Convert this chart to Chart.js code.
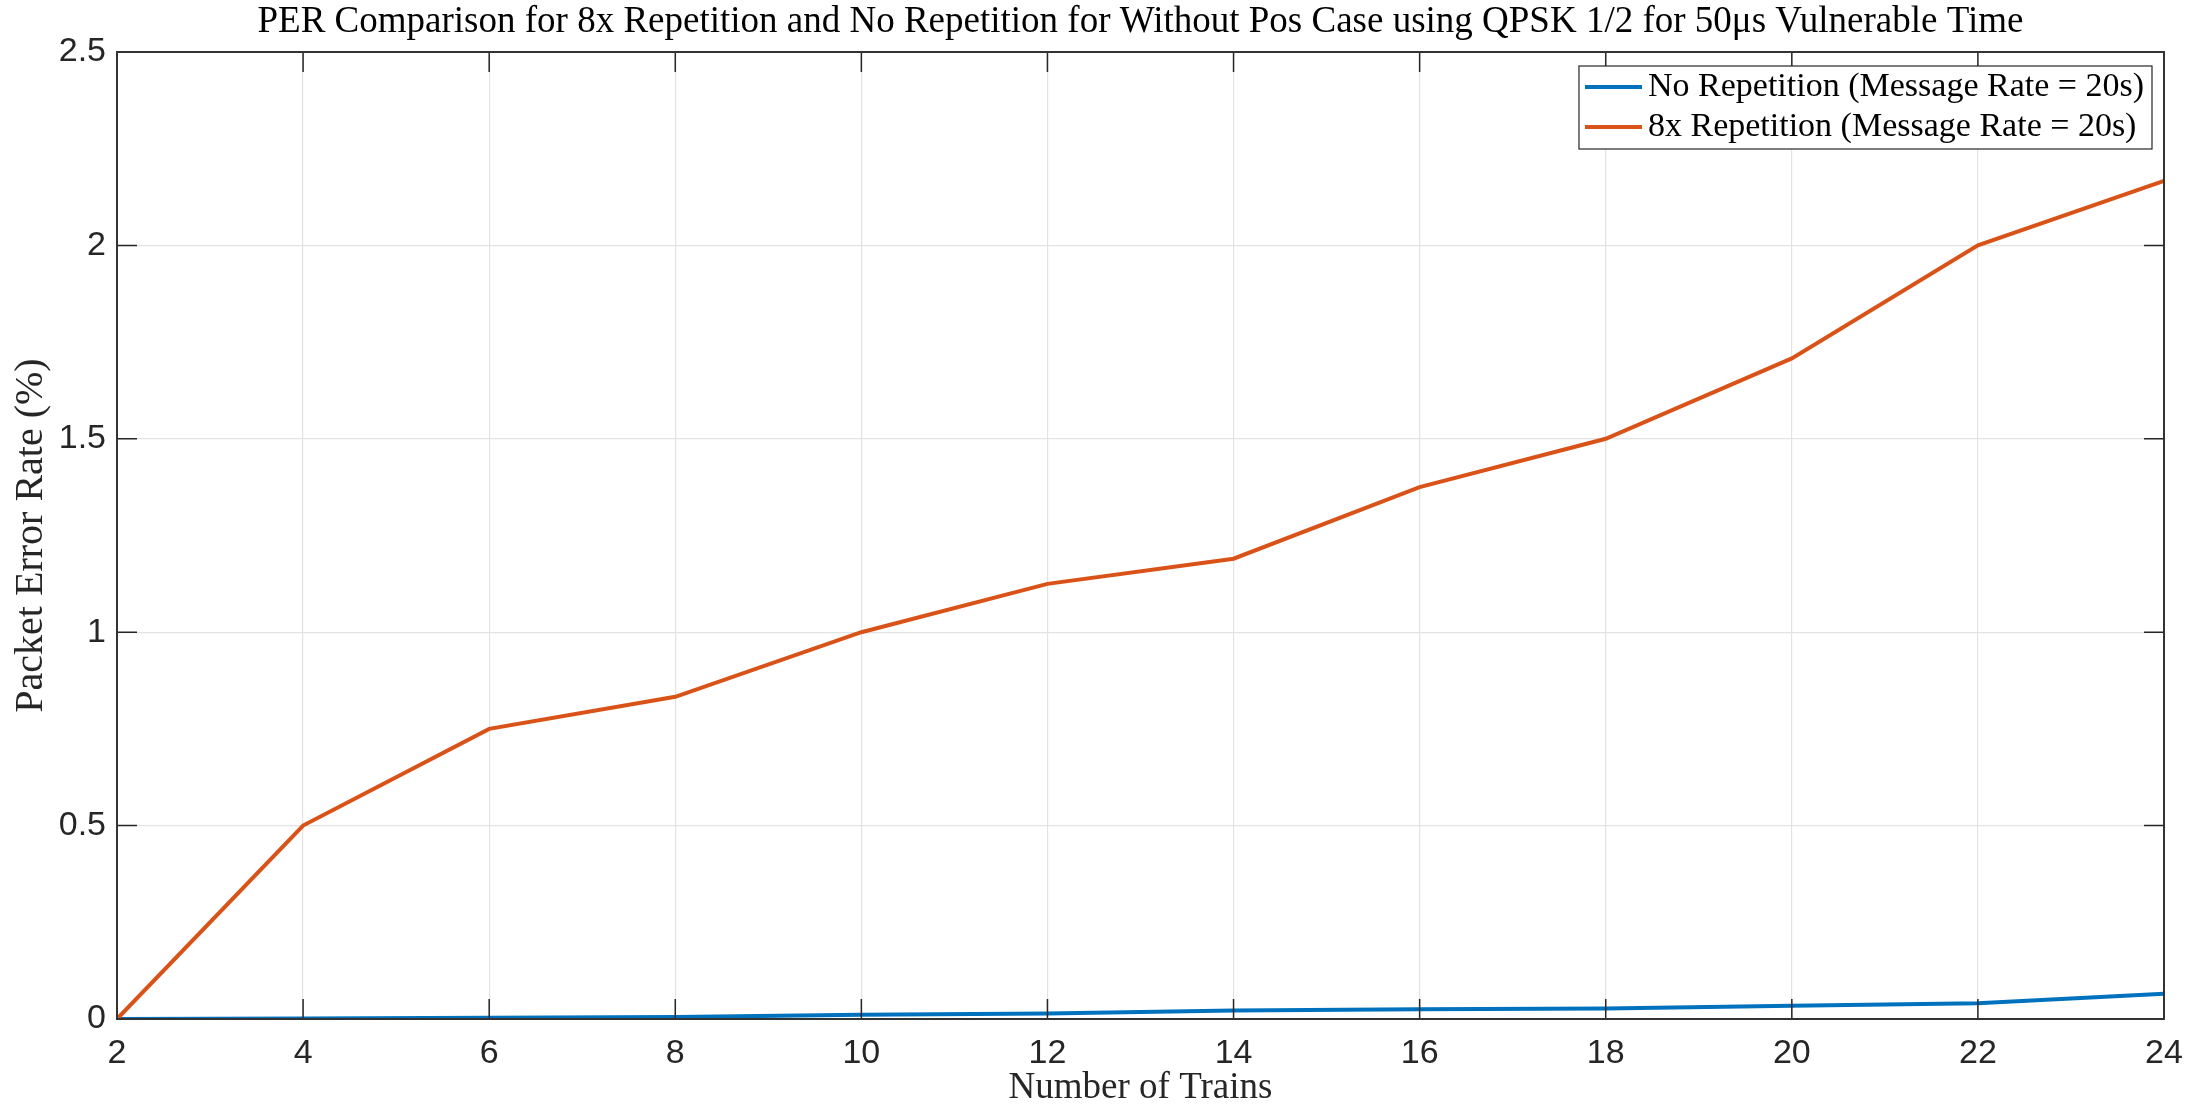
<!DOCTYPE html>
<html>
<head>
<meta charset="utf-8">
<script src="https://cdn.jsdelivr.net/npm/chart.js@4/dist/chart.umd.min.js"></script>
<style>
  html, body { margin: 0; padding: 0; background: #ffffff; }
  #wrap { width: 2211px; height: 1107px; }
</style>
</head>
<body>
<div id="wrap"><canvas id="c" width="2211" height="1107"></canvas></div>
<script>
// ---- data ----
const trains = [2, 4, 6, 8, 10, 12, 14, 16, 18, 20, 22, 24];
const noRepetition = [0, 0.001, 0.003, 0.005, 0.011, 0.014, 0.022, 0.025, 0.027, 0.034, 0.041, 0.065];
const rep8x = [0, 0.5, 0.75, 0.833, 1.0, 1.125, 1.19, 1.375, 1.5, 1.708, 2.0, 2.167];
const seriesLabels = ['No Repetition (Message Rate = 20s)', '8x Repetition (Message Rate = 20s)'];
const xTicks = [2, 4, 6, 8, 10, 12, 14, 16, 18, 20, 22, 24];
const yTicks = [0, 0.5, 1, 1.5, 2, 2.5];
const titleText = 'PER Comparison for 8x Repetition and No Repetition for Without Pos Case using QPSK 1/2 for 50\u03BCs Vulnerable Time';
const xTitle = 'Number of Trains';
const yTitle = 'Packet Error Rate (%)';

const AX = '#262626';
const SERIF = '"Liberation Serif", "DejaVu Serif", serif';
const SANS = '"Liberation Sans", Arial, Helvetica, sans-serif';

const toXY = (ys) => trains.map((t, i) => ({ x: t, y: ys[i] }));

// MATLAB-like box + inward ticks + legend
const boxPlugin = {
  id: 'boxTicks',
  afterDatasetsDraw(chart) {
    const { ctx, chartArea: a, scales } = chart;
    ctx.save();
    ctx.strokeStyle = AX;
    ctx.lineWidth = 1.5;
    const tl = 20;
    ctx.beginPath();
    xTicks.forEach(v => {
      const px = scales.x.getPixelForValue(v);
      ctx.moveTo(px, a.bottom); ctx.lineTo(px, a.bottom - tl);
      ctx.moveTo(px, a.top); ctx.lineTo(px, a.top + tl);
    });
    yTicks.forEach(v => {
      const py = scales.y.getPixelForValue(v);
      ctx.moveTo(a.left, py); ctx.lineTo(a.left + tl, py);
      ctx.moveTo(a.right, py); ctx.lineTo(a.right - tl, py);
    });
    ctx.stroke();
    ctx.strokeStyle = '#333333';
    ctx.lineWidth = 2;
    ctx.strokeRect(a.left, a.top, a.right - a.left, a.bottom - a.top);
    ctx.restore();
  },
  afterDraw(chart) {
    const { ctx, chartArea: a } = chart;
    ctx.save();
    ctx.font = '34px ' + SERIF;
    const widths = chart.data.datasets.map(d => ctx.measureText(d.label).width);
    const textW = Math.max(...widths);
    const lineLen = 57, gap = 6, padL = 6, padR = 8;
    const rowH = 40;
    const boxW = padL + lineLen + gap + textW + padR;
    const boxH = rowH * chart.data.datasets.length + 3;
    const bx = a.right - 12 - boxW;
    const by = a.top + 14;
    ctx.fillStyle = '#ffffff';
    ctx.fillRect(bx, by, boxW, boxH);
    ctx.strokeStyle = AX;
    ctx.lineWidth = 1.2;
    ctx.strokeRect(bx, by, boxW, boxH);
    chart.data.datasets.forEach((d, i) => {
      const cy = by + 21 + i * rowH;
      ctx.strokeStyle = d.borderColor;
      ctx.lineWidth = 4;
      ctx.beginPath();
      ctx.moveTo(bx + padL, cy);
      ctx.lineTo(bx + padL + lineLen, cy);
      ctx.stroke();
      ctx.fillStyle = '#000000';
      ctx.textBaseline = 'middle';
      ctx.textAlign = 'left';
      ctx.fillText(d.label, bx + padL + lineLen + gap, cy);
    });
    ctx.restore();
  }
};

new Chart(document.getElementById('c'), {
  type: 'line',
  data: {
    datasets: [
      { label: seriesLabels[0], data: toXY(noRepetition), borderColor: '#0072BD', backgroundColor: '#0072BD',
        borderWidth: 4, pointRadius: 0, tension: 0, order: 1 },
      { label: seriesLabels[1], data: toXY(rep8x), borderColor: '#D95319', backgroundColor: '#D95319',
        borderWidth: 4, pointRadius: 0, tension: 0, order: 0 }
    ]
  },
  options: {
    responsive: false,
    animation: false,
    devicePixelRatio: 1,
    layout: { padding: { left: 0, right: 47, top: 0, bottom: 0 } },
    plugins: {
      legend: { display: false },
      tooltip: { enabled: false },
      title: {
        display: true,
        fullSize: false,
        text: titleText,
        color: '#000000',
        font: { family: SERIF, size: 37, weight: 'normal', lineHeight: 1.0 },
        padding: { top: 4, bottom: 11 }
      }
    },
    scales: {
      x: {
        type: 'linear',
        min: 2, max: 24,
        afterBuildTicks: (s) => { s.ticks = xTicks.map(v => ({ value: v })); },
        afterFit: (s) => { s.height = 88; },
        grid: { color: '#e3e3e3', lineWidth: 1.2, drawTicks: false },
        border: { display: false },
        ticks: { color: AX, font: { family: SANS, size: 34 }, padding: 14, maxRotation: 0,
                 callback: (v) => String(v) },
        title: { display: true, text: xTitle, color: '#262626',
                 font: { family: SERIF, size: 37, lineHeight: 1.0 }, padding: 0 }
      },
      y: {
        type: 'linear',
        min: 0, max: 2.5,
        afterBuildTicks: (s) => { s.ticks = yTicks.map(v => ({ value: v })); },
        afterFit: (s) => { s.width = 117; },
        grid: { color: '#e3e3e3', lineWidth: 1.2, drawTicks: false },
        border: { display: false },
        ticks: { color: AX, font: { family: SANS, size: 34 }, padding: 11,
                 callback: (v) => String(v) },
        title: { display: true, text: yTitle, color: '#262626',
                 font: { family: SERIF, size: 40, lineHeight: 1.2 }, padding: { top: 7, bottom: 0 } }
      }
    }
  },
  plugins: [boxPlugin]
});
</script>
</body>
</html>
